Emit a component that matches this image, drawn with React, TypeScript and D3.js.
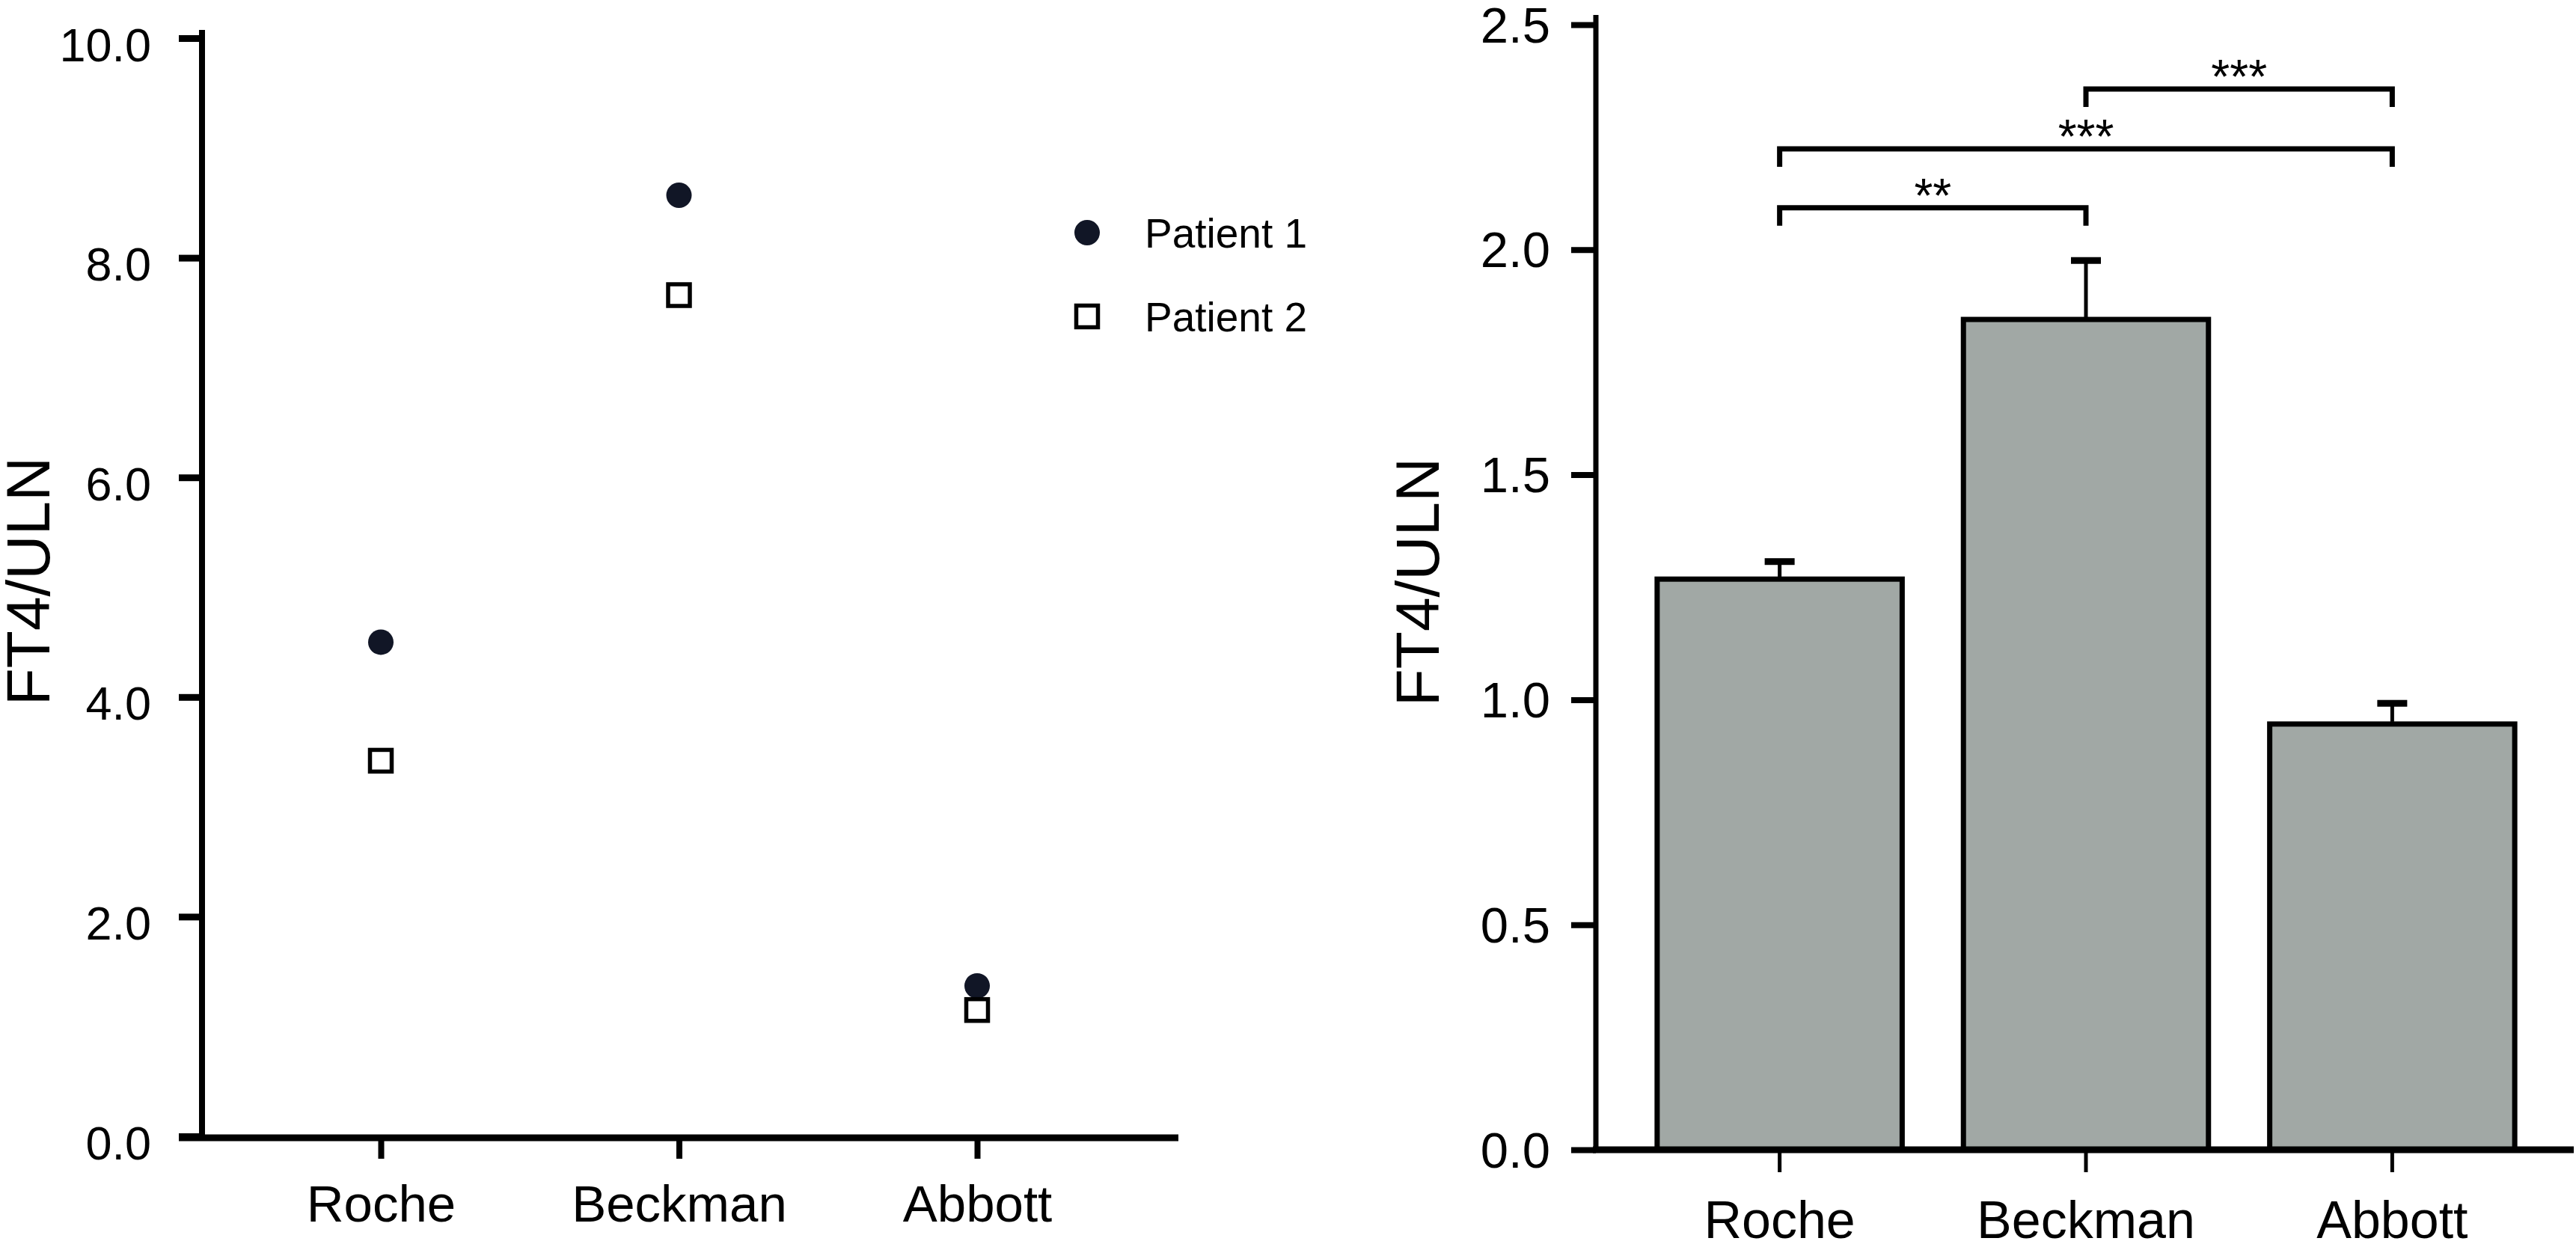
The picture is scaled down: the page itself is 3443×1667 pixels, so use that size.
import { useEffect, useRef } from 'react';
import * as d3 from 'd3';

const W = 3443;
const H = 1667;
const FONT = '"Liberation Sans", Arial, Helvetica, sans-serif';

const categories = ['Roche', 'Beckman', 'Abbott'];

// left panel: individual patients
const patient1 = [4.5, 8.57, 1.37];
const patient2 = [3.42, 7.66, 1.15];
const leftTicks = [0, 2, 4, 6, 8, 10];

// right panel: mean + SEM
const barMeans = [1.268, 1.845, 0.946];
const barSem = [0.039, 0.131, 0.046];
const rightTicks = [0, 0.5, 1, 1.5, 2, 2.5];

const brackets = [
  { from: 'Beckman', to: 'Abbott', y: 2.357, label: '***' },
  { from: 'Roche', to: 'Abbott', y: 2.224, label: '***' },
  { from: 'Roche', to: 'Beckman', y: 2.093, label: '**' },
];

const legendItems = ['Patient 1', 'Patient 2'];

const DOT = '#111626';
const BAR = '#a1a8a5';

function draw(svgEl: SVGSVGElement) {
  const svg = d3.select(svgEl);
  svg.selectAll('*').remove();

  // ---------- left panel ----------
  const xL = d3.scalePoint<string>().domain(categories).range([509, 1306]);
  const yL = d3.scaleLinear().domain([0, 10]).range([1519, 51]);
  const left = svg.append('g');

  const yAxL = left
    .append('g')
    .attr('transform', 'translate(270,0)')
    .call(d3.axisLeft(yL).tickValues(leftTicks).tickFormat(d3.format('.1f')).tickSize(31));
  yAxL.select('.domain').remove();
  yAxL.selectAll('.tick line').attr('stroke', '#000').attr('stroke-width', 9);
  yAxL
    .selectAll('.tick text')
    .attr('x', -68)
    .attr('dy', 0)
    .attr('y', 30)
    .attr('fill', '#000')
    .attr('font-family', FONT)
    .attr('font-size', 63);

  const xAxL = left
    .append('g')
    .attr('transform', 'translate(0,1521)')
    .call(d3.axisBottom(xL).tickSize(28));
  xAxL.select('.domain').remove();
  xAxL.selectAll('.tick line').attr('stroke', '#000').attr('stroke-width', 8);
  xAxL
    .selectAll('.tick text')
    .attr('y', 112)
    .attr('dy', 0)
    .attr('fill', '#000')
    .attr('font-family', FONT)
    .attr('font-size', 69);

  left.append('line').attr('x1', 270).attr('x2', 270).attr('y1', 40).attr('y2', 1525)
    .attr('stroke', '#000').attr('stroke-width', 8);
  left.append('line').attr('x1', 239).attr('x2', 1575).attr('y1', 1521).attr('y2', 1521)
    .attr('stroke', '#000').attr('stroke-width', 9);

  left
    .append('text')
    .attr('transform', 'translate(66,777) rotate(-90)')
    .attr('text-anchor', 'middle')
    .attr('font-family', FONT)
    .attr('font-size', 82)
    .text('FT4/ULN');

  left
    .selectAll('circle.p1')
    .data(patient1)
    .join('circle')
    .attr('class', 'p1')
    .attr('cx', (_, i) => xL(categories[i]) ?? 0)
    .attr('cy', (d) => yL(d))
    .attr('r', 17)
    .attr('fill', DOT);

  const sq = 29;
  left
    .selectAll('rect.p2')
    .data(patient2)
    .join('rect')
    .attr('class', 'p2')
    .attr('x', (_, i) => (xL(categories[i]) ?? 0) - sq / 2)
    .attr('y', (d) => yL(d) - sq / 2)
    .attr('width', sq)
    .attr('height', sq)
    .attr('fill', '#fff')
    .attr('stroke', '#000')
    .attr('stroke-width', 5.5);

  // legend
  const leg = left.append('g').attr('transform', 'translate(1453,311)');
  const legItem = leg
    .selectAll('g')
    .data(legendItems)
    .join('g')
    .attr('transform', (_, i) => `translate(0,${i * 112})`);
  legItem
    .filter((_, i) => i === 0)
    .append('circle')
    .attr('r', 17)
    .attr('fill', DOT);
  legItem
    .filter((_, i) => i === 1)
    .append('rect')
    .attr('x', -sq / 2)
    .attr('y', -sq / 2)
    .attr('width', sq)
    .attr('height', sq)
    .attr('fill', '#fff')
    .attr('stroke', '#000')
    .attr('stroke-width', 5.5);
  legItem
    .append('text')
    .attr('x', 77)
    .attr('y', 20)
    .attr('font-family', FONT)
    .attr('font-size', 55)
    .text((d) => d);

  // ---------- right panel ----------
  const xR = d3.scaleBand<string>().domain(categories).range([2133, 3443]).paddingInner(0.2).paddingOuter(0.2);
  const yR = d3.scaleLinear().domain([0, 2.5]).range([1537, 33]);
  const right = svg.append('g');
  const cx = (c: string) => (xR(c) ?? 0) + xR.bandwidth() / 2;

  right
    .selectAll('rect.bar')
    .data(barMeans)
    .join('rect')
    .attr('class', 'bar')
    .attr('x', (_, i) => xR(categories[i]) ?? 0)
    .attr('y', (d) => yR(d))
    .attr('width', xR.bandwidth())
    .attr('height', (d) => yR(0) - yR(d))
    .attr('fill', BAR)
    .attr('stroke', '#000')
    .attr('stroke-width', 7);

  const err = right
    .selectAll('g.err')
    .data(barMeans)
    .join('g')
    .attr('class', 'err');
  err
    .append('line')
    .attr('x1', (_, i) => cx(categories[i]))
    .attr('x2', (_, i) => cx(categories[i]))
    .attr('y1', (d) => yR(d) - 3)
    .attr('y2', (d, i) => yR(d + barSem[i]))
    .attr('stroke', '#000')
    .attr('stroke-width', 5);
  err
    .append('rect')
    .attr('x', (_, i) => cx(categories[i]) - 20)
    .attr('y', (d, i) => yR(d + barSem[i]) - 4.5)
    .attr('width', 40)
    .attr('height', 9)
    .attr('fill', '#000');

  const yAxR = right
    .append('g')
    .attr('transform', 'translate(2133,0)')
    .call(d3.axisLeft(yR).tickValues(rightTicks).tickFormat(d3.format('.1f')).tickSize(33));
  yAxR.select('.domain').remove();
  yAxR.selectAll('.tick line').attr('stroke', '#000').attr('stroke-width', 8);
  yAxR
    .selectAll('.tick text')
    .attr('x', -61)
    .attr('dy', 0)
    .attr('y', 23)
    .attr('fill', '#000')
    .attr('font-family', FONT)
    .attr('font-size', 67);

  const xAxR = right
    .append('g')
    .attr('transform', 'translate(0,1537)')
    .call(d3.axisBottom(xR).tickSize(30));
  xAxR.select('.domain').remove();
  xAxR.selectAll('.tick line').attr('stroke', '#000').attr('stroke-width', 5);
  xAxR
    .selectAll('.tick text')
    .attr('y', 118)
    .attr('dy', 0)
    .attr('fill', '#000')
    .attr('font-family', FONT)
    .attr('font-size', 70);

  right.append('line').attr('x1', 2133).attr('x2', 2133).attr('y1', 20).attr('y2', 1541)
    .attr('stroke', '#000').attr('stroke-width', 7);
  right.append('line').attr('x1', 2129).attr('x2', 3440).attr('y1', 1537).attr('y2', 1537)
    .attr('stroke', '#000').attr('stroke-width', 9);

  right
    .append('text')
    .attr('transform', 'translate(1923,778) rotate(-90)')
    .attr('text-anchor', 'middle')
    .attr('font-family', FONT)
    .attr('font-size', 82)
    .text('FT4/ULN');

  // significance brackets
  const br = right.selectAll('g.br').data(brackets).join('g').attr('class', 'br');
  br.append('path')
    .attr('d', (d) => {
      const x1 = cx(d.from);
      const x2 = cx(d.to);
      const y = yR(d.y);
      return `M${x1},${y + 24}V${y}H${x2}V${y + 24}`;
    })
    .attr('fill', 'none')
    .attr('stroke', '#000')
    .attr('stroke-width', 7);
  br.append('text')
    .attr('x', (d) => (cx(d.from) + cx(d.to)) / 2)
    .attr('y', (d) => yR(d.y) + 6)
    .attr('text-anchor', 'middle')
    .attr('font-family', FONT)
    .attr('font-size', 64)
    .text((d) => d.label);
}

export default function App() {
  const svgRef = useRef<SVGSVGElement>(null);

  useEffect(() => {
    if (!svgRef.current) return;
    draw(svgRef.current);
  }, []);

  return (
    <svg
      ref={svgRef}
      width={W}
      height={H}
      style={{ position: 'absolute', left: 0, top: 0, background: '#fff', display: 'block' }}
    />
  );
}
